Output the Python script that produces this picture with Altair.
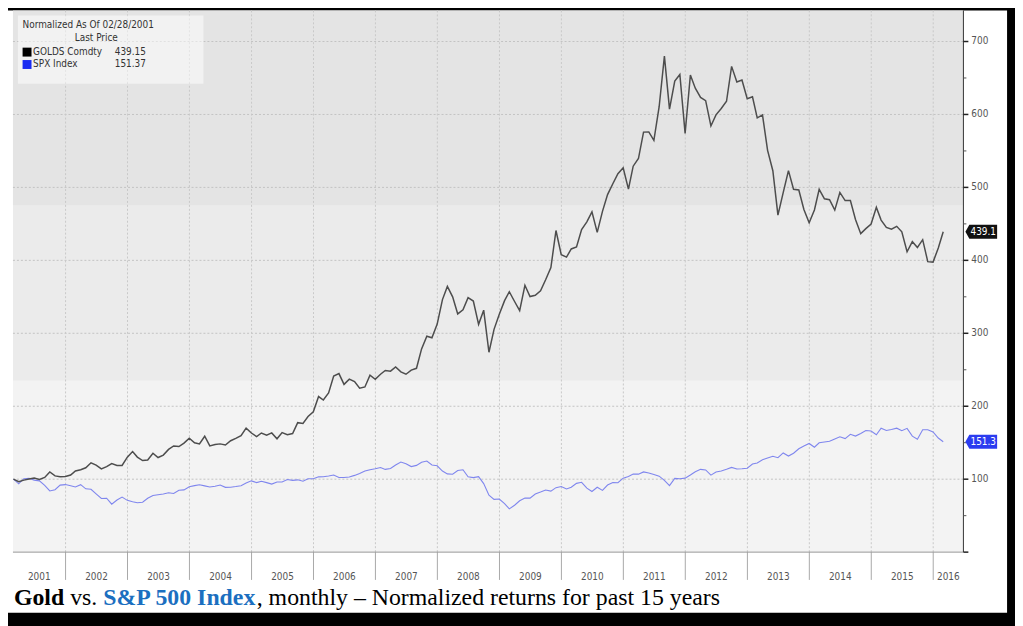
import calendar
import altair as alt
import pandas as pd

# ---------------- data (normalized, 02/28/2001 = 100), monthly ----------------
gold = [
    100.0, 96.6, 98.7, 100.3, 101.5, 99.7, 102.4, 109.9, 104.5, 103.3, 103.7,               # 2001 Feb-Dec
    105.8, 111.3, 113.0, 115.6, 122.5, 119.4, 114.2, 117.3, 121.4, 118.8, 118.9, 130.2,     # 2002
    137.8, 130.3, 125.6, 126.3, 135.5, 129.7, 133.0, 140.8, 145.5, 144.8, 149.4, 156.1,     # 2003
    149.9, 148.4, 158.9, 145.7, 147.5, 148.4, 146.8, 152.7, 155.9, 159.6, 170.0, 163.3,     # 2004
    158.3, 163.3, 160.3, 163.4, 155.4, 163.9, 160.9, 162.5, 177.5, 176.5, 185.9, 192.4,     # 2005
    213.3, 208.5, 218.2, 241.5, 244.8, 230.0, 237.2, 233.8, 224.7, 226.4, 242.5, 237.0,     # 2006
    243.9, 249.0, 248.1, 253.8, 247.1, 243.9, 249.5, 252.0, 278.6, 296.0, 293.8, 312.6,     # 2007
    346.2, 364.3, 350.0, 326.6, 332.1, 348.8, 344.2, 312.3, 331.7, 274.0, 305.4, 326.1,     # 2008
    344.8, 357.0, 343.6, 331.2, 365.8, 350.4, 352.1, 358.3, 373.4, 390.0, 440.9, 407.8,     # 2009
    404.4, 415.6, 418.3, 442.2, 452.8, 466.5, 438.3, 467.2, 490.1, 505.0, 518.8, 527.0,     # 2010
    497.6, 529.1, 539.6, 575.8, 576.1, 564.5, 610.6, 680.0, 607.4, 645.7, 654.7, 574.1,     # 2011
    654.0, 636.0, 623.4, 619.0, 584.2, 599.4, 608.2, 618.1, 665.9, 644.5, 647.2, 621.5,     # 2012
    624.2, 595.4, 599.3, 550.8, 522.9, 462.0, 492.9, 523.0, 497.4, 496.4, 469.8, 451.6,     # 2013
    469.0, 497.4, 484.4, 483.1, 468.9, 493.1, 481.9, 482.1, 456.1, 436.6, 443.5, 449.7,     # 2014
    472.6, 455.2, 445.1, 442.6, 446.6, 439.1, 411.8, 425.6, 417.7, 428.3, 398.2, 397.6,     # 2015
    416.9, 439.15,                                                                           # 2016 Jan-Feb
]
spx = [
    100.0, 93.6, 100.7, 101.3, 98.7, 97.7, 91.5, 83.9, 85.5, 91.9, 92.6,                    # 2001 Feb-Dec
    91.1, 89.3, 92.5, 86.8, 86.1, 79.8, 73.5, 73.9, 65.7, 71.5, 75.5, 71.0,                 # 2002
    69.0, 67.8, 68.4, 73.9, 77.7, 78.7, 79.8, 81.3, 80.3, 84.8, 85.3, 89.7,                 # 2003
    91.2, 92.3, 90.8, 89.3, 90.4, 92.0, 88.8, 89.0, 89.9, 91.1, 94.7, 97.7,                 # 2004
    95.3, 97.1, 95.3, 93.3, 96.1, 96.1, 99.5, 98.4, 99.1, 97.3, 100.7, 100.7,               # 2005
    103.2, 103.3, 104.4, 105.7, 102.4, 102.4, 103.0, 105.2, 107.7, 111.1, 113.0, 114.4,     # 2006
    116.0, 113.4, 114.6, 119.5, 123.5, 121.2, 117.3, 118.9, 123.1, 124.9, 119.4, 118.4,     # 2007
    111.2, 107.3, 106.7, 111.8, 112.9, 103.2, 102.2, 103.5, 94.0, 78.1, 72.3, 72.8,         # 2008
    66.6, 59.3, 64.3, 70.4, 74.1, 74.1, 79.6, 82.3, 85.2, 83.6, 88.4, 89.9,                 # 2009
    86.6, 89.0, 94.3, 95.7, 87.8, 83.1, 88.9, 84.6, 92.0, 95.4, 95.2, 101.4,                # 2010
    103.7, 107.0, 106.9, 110.0, 108.5, 106.5, 104.2, 98.3, 91.2, 101.1, 100.6, 101.4,       # 2011
    105.8, 110.2, 113.5, 112.7, 105.6, 109.8, 111.2, 113.5, 116.2, 113.9, 114.2, 115.0,     # 2012
    120.8, 122.2, 126.5, 128.9, 131.5, 129.5, 136.0, 131.7, 135.6, 141.7, 145.6, 149.0,     # 2013
    143.8, 149.9, 151.0, 151.9, 155.2, 158.1, 155.7, 161.5, 159.1, 162.7, 166.8, 166.0,     # 2014
    160.9, 169.8, 166.8, 168.2, 169.9, 166.4, 169.7, 159.0, 154.8, 167.7, 167.8, 164.8,     # 2015
    156.4, 151.37,                                                                           # 2016 Jan-Feb
]
assert len(gold) == len(spx) == 181

series_names = ["GOLDS Comdty", "SPX Index"]
legend_values = ["439.15", "151.37"]
tag_labels = ["439.1", "151.3"]
last_values = [gold[-1], spx[-1]]
years = list(range(2001, 2017))
y_major = [0, 100, 200, 300, 400, 500, 600, 700]
y_labels = ["100", "200", "300", "400", "500", "600", "700"]
y_minor = [50, 150, 250, 350, 450, 550, 650]
band_lo = [0, 235, 475]
band_hi = [235, 475, 742.6]

caption_parts = ["Gold", "vs.", "S&P 500 Index", ", monthly \u2013 Normalized returns for past 15 years"]

# ---------------- derived tables ----------------
dates = []
yy, mm = 2001, 2
for _ in range(len(gold)):
    dd = calendar.monthrange(yy, mm)[1]
    dates.append(f"{yy:04d}-{mm:02d}-{dd:02d}")
    mm += 1
    if mm > 12:
        mm, yy = 1, yy + 1

gold_df = pd.DataFrame({"date": dates, "value": gold})
spx_df = pd.DataFrame({"date": dates, "value": spx})

x_start = pd.Timestamp("2001-02-25")
x_end = pd.Timestamp("2016-06-27")
bounds = [pd.Timestamp(f"{y}-01-01") for y in years[1:]]
year_mid = []
for y in years:
    a = max(pd.Timestamp(f"{y}-01-01"), x_start)
    b = min(pd.Timestamp(f"{y + 1}-01-01"), x_end)
    year_mid.append((a + (b - a) / 2).strftime("%Y-%m-%dT%H:%M:%S"))
years_df = pd.DataFrame({"year": [str(y) for y in years], "mid": year_mid})
bounds_df = pd.DataFrame({"d": [b.strftime("%Y-%m-%d") for b in bounds]})

W, H = 958, 546
FONT = "DejaVu Sans Condensed, Liberation Sans Narrow, DejaVu Sans, sans-serif"
SERIF = "Liberation Serif, Times New Roman, serif"

xscale = alt.Scale(domain=[alt.DateTime(year=2001, month=2, date=25, utc=True),
                           alt.DateTime(year=2016, month=6, date=27, utc=True)])
yscale = alt.Scale(domain=[0, 742.6], nice=False, zero=False)

one = pd.DataFrame({"k": [0]})

# white inner area (frame drawn by black background)
inner = alt.Chart(one).mark_rect(color="#ffffff").encode(
    x=alt.value(-5), x2=alt.value(1002), y=alt.value(0), y2=alt.value(607))

# background bands
bands_df = pd.DataFrame({"lo": band_lo, "hi": band_hi, "c": ["#f3f3f3", "#ebebeb", "#e4e4e4"]})
bands = alt.Chart(bands_df).mark_rect().encode(
    y=alt.Y("lo:Q", scale=yscale, axis=None), y2="hi:Q",
    x=alt.value(0), x2=alt.value(W),
    color=alt.Color("c:N", scale=None))

# grid
hgrid = alt.Chart(pd.DataFrame({"v": y_major[1:]})).mark_rule(
    color="#c2c2c2", strokeDash=[2, 2], strokeWidth=1).encode(
    y=alt.Y("v:Q", scale=yscale, axis=None))
vgrid = alt.Chart(bounds_df).mark_rule(
    color="#c8c8c8", strokeDash=[2, 2], strokeWidth=1).encode(
    x=alt.X("d:T", scale=xscale, axis=None))

# legend panel
panel = alt.Chart(one).mark_rect(color="#ffffff", opacity=0.5).encode(
    x=alt.value(5), x2=alt.value(192), y=alt.value(5), y2=alt.value(74))

# lines
spx_line = alt.Chart(spx_df).mark_line(color="#7f86ee", strokeWidth=1.1).encode(
    x=alt.X("date:T", scale=xscale, axis=None),
    y=alt.Y("value:Q", scale=yscale, axis=None))
gold_line = alt.Chart(gold_df).mark_line(color="#4d4d4d", strokeWidth=1.5).encode(
    x=alt.X("date:T", scale=xscale, axis=None),
    y=alt.Y("value:Q", scale=yscale, axis=None))

# ---- axes drawn with marks through the shared scales ----
y_domain = alt.Chart(one).mark_rule(color="#333333", strokeWidth=1).encode(
    x=alt.value(W), y=alt.value(0), y2=alt.value(H))
x_domain = alt.Chart(one).mark_rule(color="#999999", strokeWidth=1).encode(
    x=alt.value(0), x2=alt.value(W), y=alt.value(H))
x_ticks = alt.Chart(bounds_df).mark_rule(color="#a8a8a8", strokeWidth=1).encode(
    x=alt.X("d:T", scale=xscale, axis=None), y=alt.value(H), y2=alt.value(H + 28))
y_ticks = alt.Chart(pd.DataFrame({"v": y_major})).mark_rule(color="#222222", strokeWidth=1.5).encode(
    y=alt.Y("v:Q", scale=yscale, axis=None), x=alt.value(W), x2=alt.value(W + 5))
y_minor_ticks = alt.Chart(pd.DataFrame({"v": y_minor})).mark_rule(color="#555555", strokeWidth=1).encode(
    y=alt.Y("v:Q", scale=yscale, axis=None), x=alt.value(W), x2=alt.value(W + 3))
y_text = alt.Chart(pd.DataFrame({"v": y_major[1:], "t": y_labels})).mark_text(
    font=FONT, fontSize=10, color="#555555", align="left", baseline="middle").encode(
    y=alt.Y("v:Q", scale=yscale, axis=None), x=alt.value(W + 8), text="t:N")

# year labels
year_text = alt.Chart(years_df).mark_text(
    font=FONT, fontSize=10, color="#555555", baseline="middle", align="center").encode(
    x=alt.X("mid:T", scale=xscale, axis=None), y=alt.value(571), text="year:N")

# last-value tags on the right axis
tags_df = pd.DataFrame({"v": last_values, "label": tag_labels, "c": ["#111111", "#2b3cf0"]})
tag_shape = "M -1 0 L -0.75 -0.44 L 1 -0.44 L 1 0.44 L -0.75 0.44 Z"
tags = alt.Chart(tags_df).mark_point(shape=tag_shape, size=1024, filled=True, opacity=1,
                                     strokeWidth=0).encode(
    x=alt.value(976), y=alt.Y("v:Q", scale=yscale, axis=None),
    color=alt.Color("c:N", scale=None))
tag_text = alt.Chart(tags_df).mark_text(font=FONT, fontSize=10, color="#ffffff",
                                        align="center", baseline="middle", dx=2).encode(
    x=alt.value(976), y=alt.Y("v:Q", scale=yscale, axis=None), text="label:N")

# legend texts
def txt(s, x, y, align="left", size=10, color="#333333", font=FONT, weight="normal"):
    return alt.Chart(pd.DataFrame({"t": [s]})).mark_text(
        font=font, fontSize=size, color=color, align=align, baseline="middle",
        fontWeight=weight).encode(x=alt.value(x), y=alt.value(y), text="t:N")

def sq(color, y):
    return alt.Chart(one).mark_square(size=81, filled=True, opacity=1, color=color).encode(
        x=alt.value(14.2), y=alt.value(y))

legend_layers = [
    txt("Normalized As Of 02/28/2001", 9.7, 15),
    txt("Last Price", 84, 28, align="center"),
    sq("#000000", 42),
    txt(series_names[0], 20.3, 42),
    txt(legend_values[0], 134, 42, align="right"),
    sq("#1a2bf2", 54.5),
    txt(series_names[1], 20.3, 54.5),
    txt(legend_values[1], 134, 54.5, align="right"),
]

# caption
def cap(s, x, color, weight):
    return alt.Chart(pd.DataFrame({"t": [s]})).mark_text(
        font=SERIF, fontSize=24, color=color, align="left", baseline="alphabetic",
        fontWeight=weight).encode(x=alt.value(x), y=alt.value(599), text="t:N")

caption = [
    cap(caption_parts[0], 1, "#000000", "bold"),
    cap(caption_parts[1], 57.7, "#000000", "normal"),
    cap(caption_parts[2], 91.0, "#1b6fc0", "bold"),
    cap(caption_parts[3], 245.7, "#000000", "normal"),
]

chart = alt.layer(
    inner, bands, hgrid, vgrid, panel, x_ticks, x_domain, y_domain, y_ticks, y_minor_ticks,
    y_text, year_text, spx_line, gold_line,
    tags, tag_text, *legend_layers, *caption
).properties(
    width=W, height=H, background="black",
    padding={"left": 5, "top": 0, "right": 52, "bottom": 72},
    autosize=alt.AutoSizeParams(type="none"),
).configure_view(strokeWidth=0)

chart.save("out.html", embed_options={"renderer": "svg", "actions": False})
